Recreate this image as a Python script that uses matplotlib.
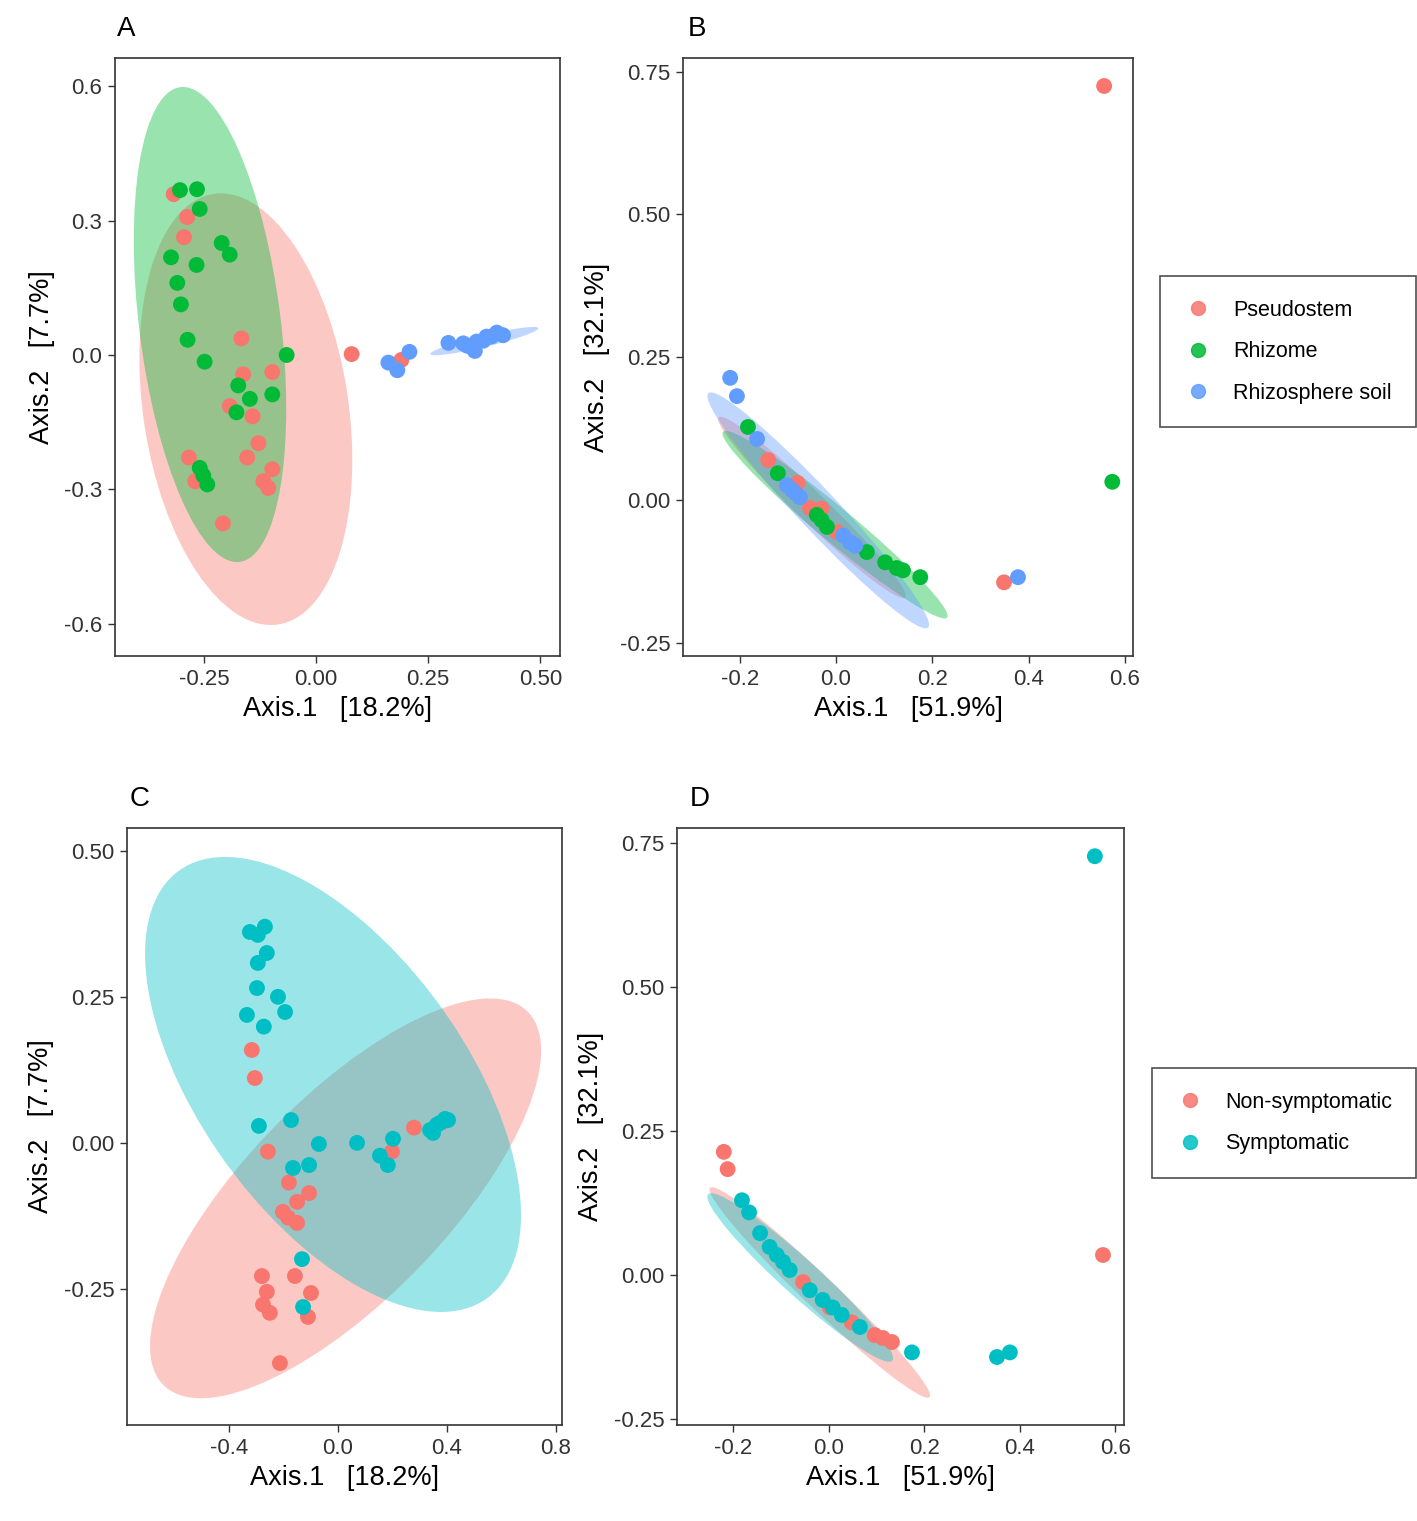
import matplotlib
matplotlib.use('Agg')
import matplotlib.pyplot as plt
from matplotlib.patches import Ellipse
from matplotlib.lines import Line2D
import numpy as np

plt.rcParams['font.family'] = ['Liberation Sans', 'DejaVu Sans']
plt.rcParams['axes.unicode_minus'] = False

RED = '#F8766D'
GREEN = '#00BA38'
BLUE = '#619CFF'
TEAL = '#00BFC4'

# ---- panel A (Axis.1 18.2%, Axis.2 7.7%), coloured by compartment ----
a_pseudo_x = [-0.318, -0.288, -0.295, -0.167, -0.163, -0.098, -0.193, -0.142, -0.129, -0.154,
              -0.284, -0.270, -0.118, -0.098, -0.107, -0.208, 0.079, 0.190]
a_pseudo_y = [0.359, 0.308, 0.263, 0.037, -0.043, -0.038, -0.114, -0.137, -0.197, -0.229,
              -0.229, -0.282, -0.282, -0.255, -0.297, -0.376, 0.002, -0.011]
a_rhizome_x = [-0.304, -0.266, -0.260, -0.211, -0.193, -0.324, -0.267, -0.310, -0.302, -0.287,
               -0.249, -0.066, -0.174, -0.148, -0.098, -0.178, -0.260, -0.252, -0.243]
a_rhizome_y = [0.368, 0.370, 0.326, 0.250, 0.224, 0.218, 0.201, 0.161, 0.113, 0.034,
               -0.015, 0.000, -0.068, -0.098, -0.088, -0.128, -0.252, -0.269, -0.289]
a_soil_x = [0.161, 0.181, 0.208, 0.295, 0.328, 0.347, 0.358, 0.380, 0.403, 0.417,
            0.373, 0.391, 0.336, 0.354]
a_soil_y = [-0.017, -0.034, 0.007, 0.027, 0.026, 0.017, 0.030, 0.041, 0.050, 0.044,
            0.032, 0.041, 0.021, 0.009]
# confidence ellipses: centre x, centre y, semi-major, semi-minor, angle
a_ell_pseudo = [-0.157, -0.121, 0.486, 0.229, 98.5]
a_ell_rhizome = [-0.237, 0.068, 0.534, 0.158, 97.1]
a_ell_soil = [0.375, 0.031, 0.124, 0.013, 13.5]

# ---- panel B (Axis.1 51.9%, Axis.2 32.1%), coloured by compartment ----
b_pseudo_x = [0.557, 0.349, -0.141, -0.054, 0.002, -0.030, -0.080]
b_pseudo_y = [0.725, -0.144, 0.070, -0.014, -0.056, -0.015, 0.030]
b_rhizome_x = [0.574, -0.183, -0.121, -0.040, -0.019, 0.064, 0.102, 0.126, 0.139, 0.175, -0.030]
b_rhizome_y = [0.032, 0.128, 0.047, -0.026, -0.047, -0.091, -0.109, -0.119, -0.123, -0.135, -0.035]
b_soil_x = [0.378, -0.220, -0.206, -0.164, -0.102, -0.092, -0.084, -0.075, 0.029, 0.015, 0.040]
b_soil_y = [-0.135, 0.214, 0.182, 0.107, 0.026, 0.018, 0.012, 0.005, -0.074, -0.062, -0.080]
b_ell_pseudo = [-0.050, -0.013, 0.250, 0.028, -39.0]
b_ell_rhizome = [-0.002, -0.043, 0.284, 0.032, -34.8]
b_ell_soil = [-0.037, -0.018, 0.307, 0.038, -41.8]

# ---- panel C (Axis.1 18.2%, Axis.2 7.7%), coloured by symptom ----
c_non_x = [-0.316, -0.305, -0.257, -0.180, -0.106, -0.150, -0.202, -0.183, -0.150, -0.279,
           -0.158, -0.261, -0.099, -0.275, -0.250, -0.110, -0.213, 0.279, 0.198, 0.385]
c_non_y = [0.159, 0.111, -0.015, -0.068, -0.086, -0.101, -0.118, -0.128, -0.137, -0.228,
           -0.228, -0.255, -0.257, -0.277, -0.291, -0.298, -0.377, 0.026, -0.015, 0.036]
c_sym_x = [-0.323, -0.268, -0.294, -0.261, -0.294, -0.297, -0.220, -0.194, -0.334, -0.272,
           -0.290, -0.172, -0.070, 0.070, 0.202, 0.154, 0.183, -0.165, -0.106, -0.132,
           -0.128, 0.338, 0.374, 0.404, 0.363, 0.393, 0.349]
c_sym_y = [0.361, 0.370, 0.356, 0.325, 0.308, 0.265, 0.250, 0.224, 0.219, 0.199,
           0.029, 0.039, -0.002, 0.000, 0.007, -0.022, -0.038, -0.043, -0.038, -0.199,
           -0.281, 0.022, 0.034, 0.039, 0.031, 0.041, 0.017]
c_ell_non = [0.028, -0.095, 0.765, 0.216, 21.2]
c_ell_sym = [-0.018, 0.100, 0.733, 0.300, -21.8]

# ---- panel D (Axis.1 51.9%, Axis.2 32.1%), coloured by symptom ----
d_non_x = [0.574, -0.220, -0.212, -0.054, 0.002, 0.048, 0.096, 0.113, 0.132]
d_non_y = [0.035, 0.214, 0.184, -0.012, -0.056, -0.082, -0.104, -0.109, -0.116]
d_sym_x = [0.557, 0.352, 0.379, 0.174, -0.182, -0.167, -0.144, -0.124, -0.109, -0.096,
           -0.082, -0.040, -0.013, 0.008, 0.027, 0.065]
d_sym_y = [0.727, -0.142, -0.134, -0.134, 0.130, 0.109, 0.073, 0.049, 0.035, 0.023,
           0.009, -0.026, -0.043, -0.056, -0.069, -0.090]
d_ell_non = [-0.019, -0.030, 0.293, 0.030, -38.2]
d_ell_sym = [-0.060, -0.004, 0.241, 0.034, -36.6]

x_label = {'AC': 'Axis.1   [18.2%]', 'BD': 'Axis.1   [51.9%]'}
y_label = {'AC': 'Axis.2   [7.7%]', 'BD': 'Axis.2   [32.1%]'}

fig = plt.figure(figsize=(14.17, 15.21), dpi=100)
W, H = 1417.0, 1521.0


def make_ax(l, r, t, b):
    return fig.add_axes([l / W, 1 - b / H, (r - l) / W, (b - t) / H])


def add_ell(ax, e, col):
    ax.add_patch(Ellipse((e[0], e[1]), 2 * e[2], 2 * e[3], angle=e[4],
                         facecolor=col, alpha=0.4, edgecolor='none', zorder=1))


def style(ax, xt, yt, xf, yf, xl, yl, letter, lx):
    ax.set_xticks(xt)
    ax.set_xticklabels([xf % v for v in xt])
    ax.set_yticks(yt)
    ax.set_yticklabels([yf % v for v in yt])
    ax.tick_params(labelsize=16, length=5, width=1, color='#333333', labelcolor='#333333', pad=4)
    for s in ax.spines.values():
        s.set_linewidth(1.2)
        s.set_color('#333333')
    ax.set_xlabel(xl, fontsize=19.5, labelpad=5)
    ax.set_ylabel(yl, fontsize=19.5, labelpad=7)
    ax.text(lx, 1.027, letter, transform=ax.transAxes, fontsize=20, ha='left', va='bottom')


PS = 130

# A
ax = make_ax(115, 560, 58, 656)
add_ell(ax, a_ell_pseudo, RED)
add_ell(ax, a_ell_rhizome, GREEN)
add_ell(ax, a_ell_soil, BLUE)
ax.scatter(a_pseudo_x, a_pseudo_y, s=PS, c=RED, edgecolors='none', zorder=3)
ax.scatter(a_rhizome_x, a_rhizome_y, s=PS, c=GREEN, edgecolors='none', zorder=3)
ax.scatter(a_soil_x, a_soil_y, s=PS, c=BLUE, edgecolors='none', zorder=3)
ax.set_xlim(-0.449, 0.544)
ax.set_ylim(-0.672, 0.663)
style(ax, [-0.25, 0, 0.25, 0.5], [-0.6, -0.3, 0, 0.3, 0.6], '%.2f', '%.1f',
      x_label['AC'], y_label['AC'], 'A', 0.005)

# B
ax = make_ax(683, 1133, 58, 656)
add_ell(ax, b_ell_pseudo, RED)
add_ell(ax, b_ell_rhizome, GREEN)
add_ell(ax, b_ell_soil, BLUE)
ax.scatter(b_pseudo_x, b_pseudo_y, s=PS, c=RED, edgecolors='none', zorder=3)
ax.scatter(b_rhizome_x, b_rhizome_y, s=PS, c=GREEN, edgecolors='none', zorder=3)
ax.scatter(b_soil_x, b_soil_y, s=PS, c=BLUE, edgecolors='none', zorder=3)
ax.set_xlim(-0.318, 0.617)
ax.set_ylim(-0.273, 0.774)
style(ax, [-0.2, 0, 0.2, 0.4, 0.6], [-0.25, 0, 0.25, 0.5, 0.75], '%.1f', '%.2f',
      x_label['BD'], y_label['BD'], 'B', 0.011)

# C
ax = make_ax(127, 562, 828, 1425)
add_ell(ax, c_ell_non, RED)
add_ell(ax, c_ell_sym, TEAL)
ax.scatter(c_non_x, c_non_y, s=PS, c=RED, edgecolors='none', zorder=3)
ax.scatter(c_sym_x, c_sym_y, s=PS, c=TEAL, edgecolors='none', zorder=3)
ax.set_xlim(-0.774, 0.822)
ax.set_ylim(-0.483, 0.539)
style(ax, [-0.4, 0, 0.4, 0.8], [-0.25, 0, 0.25, 0.5], '%.1f', '%.2f',
      x_label['AC'], y_label['AC'], 'C', 0.005)

# D
ax = make_ax(677, 1124, 828, 1425)
add_ell(ax, d_ell_non, RED)
add_ell(ax, d_ell_sym, TEAL)
ax.scatter(d_non_x, d_non_y, s=PS, c=RED, edgecolors='none', zorder=3)
ax.scatter(d_sym_x, d_sym_y, s=PS, c=TEAL, edgecolors='none', zorder=3)
ax.set_xlim(-0.318, 0.618)
ax.set_ylim(-0.260, 0.776)
style(ax, [-0.2, 0, 0.2, 0.4, 0.6], [-0.25, 0, 0.25, 0.5, 0.75], '%.1f', '%.2f',
      x_label['BD'], y_label['BD'], 'D', 0.029)


def legend(labels, cols, x0, y0):
    h = [Line2D([], [], marker='o', ls='none', ms=10, color=c, alpha=0.85) for c in cols]
    lg = fig.legend(h, labels, loc='upper left', bbox_to_anchor=(x0 / W, 1 - y0 / H),
                    borderaxespad=0, frameon=True, fancybox=False, fontsize=15.5,
                    handletextpad=1.0, labelspacing=0.95, borderpad=1.1, handlelength=1.3)
    lg.get_frame().set_edgecolor('#222222')
    lg.get_frame().set_linewidth(1.2)


legend(['Pseudostem', 'Rhizome', 'Rhizosphere soil'], [RED, GREEN, BLUE], 1160, 276)
legend(['Non-symptomatic', 'Symptomatic'], [RED, TEAL], 1152, 1068)

fig.savefig('out.png', dpi=100, facecolor='white')
